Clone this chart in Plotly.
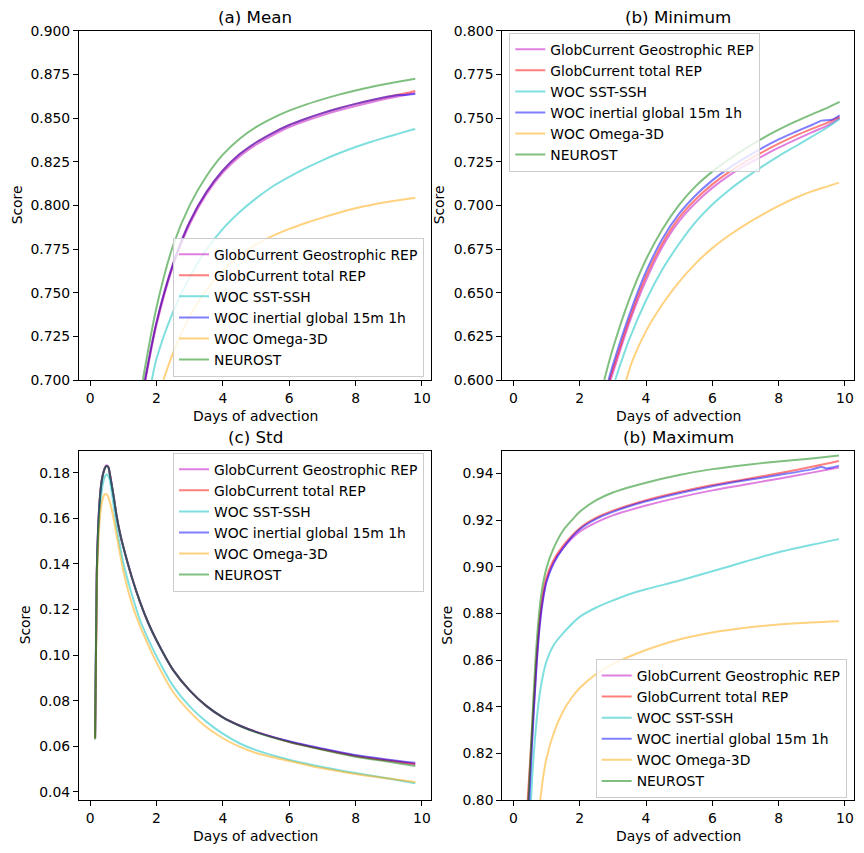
import plotly.graph_objects as go

# ---------------- series names / styles ----------------
series_names = ["GlobCurrent Geostrophic REP", "GlobCurrent total REP", "WOC SST-SSH",
                "WOC inertial global 15m 1h", "WOC Omega-3D", "NEUROST"]
series_colors = ["rgba(191,0,191,0.5)", "rgba(255,0,0,0.5)", "rgba(0,191,191,0.5)",
                 "rgba(0,0,255,0.5)", "rgba(255,165,0,0.5)", "rgba(0,128,0,0.5)"]
panel_titles = ["(a) Mean", "(b) Minimum", "(c) Std", "(b) Maximum"]
x_label = "Days of advection"
y_label = "Score"

# ---------------- (a) Mean ----------------
mean_geo_x = [1.67, 2.0, 2.5, 3.0, 3.5, 4.0, 4.5, 5.0, 5.5, 6.0, 6.5, 7.0, 7.5, 8.0, 8.5, 9.0, 9.5, 9.8]
mean_geo_y = [0.700, 0.7315, 0.7652, 0.7892, 0.8062, 0.8187, 0.8279, 0.8347, 0.8401, 0.8448, 0.8484, 0.8516,
              0.8544, 0.8569, 0.8592, 0.8613, 0.8632, 0.8643]
mean_tot_x = [1.655, 2.0, 2.5, 3.0, 3.5, 4.0, 4.5, 5.0, 5.5, 6.0, 6.5, 7.0, 7.5, 8.0, 8.5, 9.0, 9.5, 9.8]
mean_tot_y = [0.700, 0.7330, 0.7665, 0.7905, 0.8075, 0.8200, 0.8292, 0.8360, 0.8414, 0.8460, 0.8496, 0.8528,
              0.8556, 0.8581, 0.8603, 0.8623, 0.8642, 0.8655]
mean_sst_x = [1.86, 2.0, 2.5, 3.0, 3.5, 4.0, 4.5, 5.0, 5.5, 6.0, 6.5, 7.0, 7.5, 8.0, 8.5, 9.0, 9.5, 9.8]
mean_sst_y = [0.700, 0.712, 0.739, 0.759, 0.7745, 0.7865, 0.7960, 0.8040, 0.8108, 0.8163, 0.8213, 0.8258,
              0.8298, 0.8334, 0.8366, 0.8394, 0.8422, 0.8437]
mean_ine_x = [1.655, 2.0, 2.5, 3.0, 3.5, 4.0, 4.5, 5.0, 5.5, 6.0, 6.5, 7.0, 7.5, 8.0, 8.5, 9.0, 9.3, 9.5, 9.8]
mean_ine_y = [0.700, 0.7330, 0.7665, 0.7905, 0.8075, 0.8200, 0.8292, 0.8360, 0.8414, 0.8460, 0.8496, 0.8528,
              0.8556, 0.8581, 0.8603, 0.8623, 0.8632, 0.8632, 0.8637]
mean_ome_x = [2.21, 2.5, 3.0, 3.5, 4.0, 4.5, 5.0, 5.5, 6.0, 6.5, 7.0, 7.5, 8.0, 8.5, 9.0, 9.5, 9.8]
mean_ome_y = [0.700, 0.7155, 0.7365, 0.7515, 0.7625, 0.7710, 0.7775, 0.7825, 0.7865, 0.7899, 0.7930, 0.7958,
              0.7983, 0.8003, 0.8020, 0.8035, 0.8044]
mean_neu_x = [1.59, 2.0, 2.5, 3.0, 3.5, 4.0, 4.5, 5.0, 5.5, 6.0, 6.5, 7.0, 7.5, 8.0, 8.5, 9.0, 9.5, 9.8]
mean_neu_y = [0.700, 0.7415, 0.777, 0.800, 0.8165, 0.8290, 0.8380, 0.8448, 0.8500, 0.8542, 0.8577, 0.8607,
              0.8634, 0.8658, 0.8679, 0.8698, 0.8715, 0.8725]

# ---------------- (b) Minimum ----------------
min_geo_x = [2.93, 3.0, 3.5, 4.0, 4.5, 5.0, 5.5, 6.0, 6.5, 7.0, 7.5, 8.0, 8.5, 9.0, 9.5, 9.84]
min_geo_y = [0.600, 0.604, 0.633, 0.657, 0.6765, 0.691, 0.7015, 0.710, 0.717, 0.723, 0.728, 0.733, 0.7375, 0.7418, 0.746, 0.750]
min_tot_x = [2.90, 3.0, 3.5, 4.0, 4.5, 5.0, 5.5, 6.0, 6.5, 7.0, 7.5, 8.0, 8.5, 9.0, 9.5, 9.84]
min_tot_y = [0.600, 0.606, 0.635, 0.6595, 0.6785, 0.693, 0.7035, 0.712, 0.719, 0.725, 0.7303, 0.7353, 0.7398, 0.7438, 0.7475, 0.7506]
min_sst_x = [3.07, 3.5, 4.0, 4.5, 5.0, 5.5, 6.0, 6.5, 7.0, 7.5, 8.0, 8.5, 9.0, 9.5, 9.84]
min_sst_y = [0.600, 0.6235, 0.6455, 0.6635, 0.6780, 0.6905, 0.7005, 0.7087, 0.7157, 0.7222, 0.7282, 0.7337, 0.7393, 0.7450, 0.7495]
min_ine_x = [2.87, 3.0, 3.5, 4.0, 4.5, 5.0, 5.5, 6.0, 6.5, 7.0, 7.5, 8.0, 8.5, 9.0, 9.3, 9.6, 9.84]
min_ine_y = [0.600, 0.6085, 0.6375, 0.6620, 0.6810, 0.6952, 0.7058, 0.7143, 0.7213, 0.7273, 0.7328, 0.7378, 0.7420, 0.7460, 0.7485, 0.7490, 0.7516]
min_ome_x = [3.40, 3.6, 4.0, 4.5, 5.0, 5.5, 6.0, 6.5, 7.0, 7.5, 8.0, 8.5, 9.0, 9.5, 9.82]
min_ome_y = [0.600, 0.6115, 0.628, 0.6435, 0.6562, 0.6668, 0.6755, 0.6827, 0.6890, 0.6946, 0.6997, 0.7042, 0.7080, 0.7110, 0.7130]
min_neu_x = [2.74, 3.0, 3.5, 4.0, 4.5, 5.0, 5.5, 6.0, 6.5, 7.0, 7.5, 8.0, 8.5, 9.0, 9.5, 9.84]
min_neu_y = [0.600, 0.6180, 0.6465, 0.6690, 0.6865, 0.7003, 0.7110, 0.7193, 0.7263, 0.7325, 0.7382, 0.7433, 0.7479, 0.7521, 0.7561, 0.7592]

# ---------------- (c) Std ----------------
std_x = [0.15, 0.2, 0.25, 0.3, 0.35, 0.4, 0.45, 0.5, 0.55, 0.6, 0.7, 0.8, 0.9, 1.0, 1.25, 1.5,
         1.75, 2.0, 2.5, 3.0, 3.5, 4.0, 4.5, 5.0, 6.0, 7.0, 8.0, 9.0, 9.8]
std_geo_y = [0.0650, 0.136, 0.1585, 0.1703, 0.1768, 0.1803, 0.1825, 0.1833, 0.1826, 0.1791, 0.1705, 0.1610, 0.1535, 0.1475, 0.1345,
             0.1235, 0.1142, 0.1065, 0.0935, 0.0845, 0.0777, 0.0727, 0.0691, 0.0663, 0.0620, 0.0587, 0.0557, 0.0536, 0.0521]
std_tot_y = [0.0635, 0.135, 0.158, 0.170, 0.1765, 0.1800, 0.1822, 0.1830, 0.1824, 0.1790, 0.1705, 0.1610, 0.1535, 0.1475, 0.1345,
             0.1235, 0.1142, 0.1065, 0.0935, 0.0845, 0.0777, 0.0727, 0.0691, 0.0663, 0.0620, 0.0587, 0.0558, 0.0538, 0.0523]
std_sst_y = [0.0640, 0.133, 0.1545, 0.1655, 0.1720, 0.1762, 0.1785, 0.1793, 0.1786, 0.1762, 0.1665, 0.1560, 0.1480, 0.1405, 0.1270,
             0.1155, 0.1070, 0.0995, 0.0865, 0.0775, 0.0708, 0.0655, 0.0613, 0.0583, 0.0541, 0.0509, 0.0482, 0.0458, 0.0437]
std_ine_y = [0.0635, 0.135, 0.158, 0.170, 0.1765, 0.1800, 0.1822, 0.1830, 0.1824, 0.1790, 0.1705, 0.1610, 0.1535, 0.1475, 0.1345,
             0.1235, 0.1142, 0.1065, 0.0935, 0.0845, 0.0777, 0.0727, 0.0691, 0.0663, 0.0622, 0.0590, 0.0561, 0.0541, 0.0527]
std_ome_y = [0.0635, 0.128, 0.150, 0.161, 0.1665, 0.1697, 0.1707, 0.1705, 0.1693, 0.1670, 0.1605, 0.1525, 0.1445, 0.1370, 0.1230,
             0.1128, 0.1045, 0.0968, 0.0838, 0.0752, 0.0684, 0.0635, 0.0598, 0.0570, 0.0535, 0.0503, 0.0478, 0.0458, 0.0443]
std_neu_y = [0.0630, 0.135, 0.158, 0.170, 0.1765, 0.1800, 0.1822, 0.1830, 0.1824, 0.1790, 0.1705, 0.1610, 0.1535, 0.1475, 0.1345,
             0.1235, 0.1142, 0.1065, 0.0935, 0.0845, 0.0777, 0.0727, 0.0690, 0.0661, 0.0618, 0.0584, 0.0554, 0.0532, 0.0513]

# ---------------- (d) Maximum ----------------
max_geo_x = [0.46, 0.55, 0.7, 0.8, 0.9, 1.0, 1.2, 1.5, 2.0, 2.5, 3.0, 4.0, 5.0, 6.0, 7.0, 8.0, 9.0, 9.82]
max_geo_y = [0.800, 0.823, 0.859, 0.8765, 0.887, 0.894, 0.9015, 0.908, 0.915, 0.919, 0.922, 0.9262, 0.9297, 0.9327, 0.9352, 0.9377, 0.9403, 0.9425]
max_tot_x = [0.43, 0.55, 0.7, 0.8, 0.9, 1.0, 1.2, 1.5, 2.0, 2.5, 3.0, 4.0, 5.0, 6.0, 7.0, 8.0, 9.0, 9.82]
max_tot_y = [0.800, 0.827, 0.861, 0.878, 0.889, 0.8955, 0.9025, 0.909, 0.9165, 0.921, 0.924, 0.9285, 0.932, 0.935, 0.9375, 0.940, 0.9428, 0.9453]
max_sst_x = [0.53, 0.6, 0.7, 0.8, 0.9, 1.0, 1.2, 1.5, 2.0, 2.5, 3.0, 3.5, 4.0, 5.0, 6.0, 7.0, 8.0, 9.0, 9.82]
max_sst_y = [0.800, 0.817, 0.834, 0.846, 0.854, 0.8595, 0.866, 0.8715, 0.8785, 0.8825, 0.8855, 0.8882, 0.8903, 0.8940, 0.8980, 0.9022, 0.9062, 0.9094, 0.9118]
max_ine_x = [0.48, 0.55, 0.7, 0.8, 0.9, 1.0, 1.2, 1.5, 2.0, 2.5, 3.0, 4.0, 5.0, 6.0, 7.0, 8.0, 9.0, 9.3, 9.45, 9.6, 9.82]
max_ine_y = [0.800, 0.821, 0.858, 0.8755, 0.8865, 0.8935, 0.901, 0.908, 0.916, 0.9205, 0.9235, 0.928, 0.9315, 0.9345, 0.937, 0.9393, 0.9417, 0.9427, 0.9421, 0.9425, 0.9432]
max_ome_x = [0.81, 0.9, 1.0, 1.25, 1.5, 1.75, 2.0, 2.5, 3.0, 3.5, 4.0, 5.0, 6.0, 7.0, 8.0, 9.0, 9.82]
max_ome_y = [0.800, 0.8100, 0.8180, 0.8300, 0.8380, 0.8437, 0.8480, 0.8540, 0.8582, 0.8615, 0.8643, 0.8688, 0.8718, 0.8738, 0.8752, 0.8761, 0.8766]
max_neu_x = [0.45, 0.55, 0.65, 0.75, 0.85, 1.0, 1.2, 1.5, 1.8, 2.0, 2.5, 3.0, 4.0, 5.0, 6.0, 7.0, 8.0, 9.0, 9.82]
max_neu_y = [0.800, 0.828, 0.856, 0.876, 0.889, 0.8995, 0.9075, 0.9155, 0.9205, 0.9235, 0.9285, 0.9318, 0.9360, 0.9393, 0.9418, 0.9436, 0.9451, 0.9464, 0.9476]

panel_data = [
    [(mean_geo_x, mean_geo_y), (mean_tot_x, mean_tot_y), (mean_sst_x, mean_sst_y),
     (mean_ine_x, mean_ine_y), (mean_ome_x, mean_ome_y), (mean_neu_x, mean_neu_y)],
    [(min_geo_x, min_geo_y), (min_tot_x, min_tot_y), (min_sst_x, min_sst_y),
     (min_ine_x, min_ine_y), (min_ome_x, min_ome_y), (min_neu_x, min_neu_y)],
    [(std_x, std_geo_y), (std_x, std_tot_y), (std_x, std_sst_y),
     (std_x, std_ine_y), (std_x, std_ome_y), (std_x, std_neu_y)],
    [(max_geo_x, max_geo_y), (max_tot_x, max_tot_y), (max_sst_x, max_sst_y),
     (max_ine_x, max_ine_y), (max_ome_x, max_ome_y), (max_neu_x, max_neu_y)],
]

# ---------------- layout geometry (pixels of an 864x853 page) ----------------
W, H = 864, 853
FONT = "DejaVu Sans"
px_x = [(79.0, 431.3), (502.3, 854.3), (79.0, 431.3), (502.3, 854.3)]
px_y = [(30.7, 380.0), (30.7, 380.0), (450.7, 800.0), (450.7, 800.0)]
y_ranges = [[0.7, 0.9], [0.6, 0.8], [0.0364, 0.1897], [0.8, 0.9497]]
y_tick0 = [0.7, 0.6, 0.04, 0.8]
y_dtick = [0.025, 0.025, 0.02, 0.02]
y_fmt = [".3f", ".3f", ".2f", ".2f"]
ylabel_px = [17.0, 439.0, 25.0, 447.3]
legend_pos = [  # x, y (px), xanchor, yanchor
    (424.0, 376.7, "right", "bottom"),
    (509.3, 32.7, "left", "top"),
    (424.0, 452.7, "right", "top"),
    (846.7, 798.0, "right", "bottom"),
]

fig = go.Figure()
layout = dict(
    width=W, height=H, autosize=False,
    margin=dict(l=0, r=0, t=0, b=0, pad=0, autoexpand=False),
    paper_bgcolor="white", plot_bgcolor="white",
    font=dict(family=FONT, size=13.9, color="black"),
    annotations=[],
)

for i in range(4):
    suffix = "" if i == 0 else str(i + 1)
    xa, ya = "x" + suffix, "y" + suffix
    legname = "legend" + suffix
    for j, (xs, ys) in enumerate(panel_data[i]):
        fig.add_trace(go.Scatter(
            x=xs, y=ys, mode="lines", name=series_names[j],
            line=dict(color=series_colors[j], width=2, shape="spline", smoothing=0.8),
            xaxis=xa, yaxis=ya, legend=legname, showlegend=True,
        ))
    x0, x1 = px_x[i]
    y0, y1 = px_y[i]
    common = dict(showline=True, mirror=True, linecolor="black", linewidth=1,
                  ticks="outside", ticklen=5, tickwidth=1, tickcolor="black",
                  showgrid=False, zeroline=False, automargin=False,
                  tickfont=dict(family=FONT, size=13.9, color="black"))
    layout["xaxis" + suffix] = dict(domain=[x0 / W, x1 / W], anchor=ya,
                                    range=[-0.335, 10.283], tick0=0, dtick=2, **common)
    layout["yaxis" + suffix] = dict(domain=[1 - y1 / H, 1 - y0 / H], anchor=xa,
                                    range=y_ranges[i], tick0=y_tick0[i], dtick=y_dtick[i],
                                    tickformat=y_fmt[i], **common)
    lx, ly, lxa, lya = legend_pos[i]
    layout[legname] = dict(x=lx / W, y=1 - ly / H, xanchor=lxa, yanchor=lya,
                           bgcolor="rgba(255,255,255,0.8)", bordercolor="#cccccc",
                           borderwidth=1, font=dict(family=FONT, size=13.9, color="black"),
                           tracegroupgap=0)
    cx = (x0 + x1) / 2 / W
    layout["annotations"].append(dict(text=panel_titles[i], x=cx, y=1 - (y0 - 14.0) / H,
                                      xref="paper", yref="paper", showarrow=False,
                                      xanchor="center", yanchor="middle",
                                      font=dict(family=FONT, size=16.7, color="black")))
    layout["annotations"].append(dict(text=x_label, x=cx, y=1 - (y1 + 35.5) / H,
                                      xref="paper", yref="paper", showarrow=False,
                                      xanchor="center", yanchor="middle",
                                      font=dict(family=FONT, size=13.9, color="black")))
    layout["annotations"].append(dict(text=y_label, x=ylabel_px[i] / W, y=1 - (y0 + y1) / 2 / H,
                                      xref="paper", yref="paper", showarrow=False, textangle=-90,
                                      xanchor="center", yanchor="middle",
                                      font=dict(family=FONT, size=13.9, color="black")))

fig.update_layout(**layout)
fig.write_html("out.html")
